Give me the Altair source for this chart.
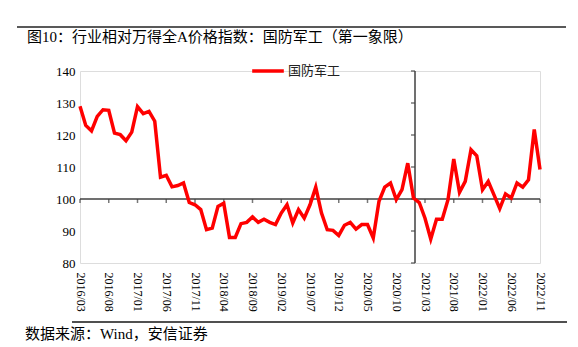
import altair as alt
import pandas as pd

months = [f"{2016 + (i + 2) // 12}/{(i + 2) % 12 + 1:02d}" for i in range(81)]
values = [129.0, 123.0, 121.3, 125.8, 127.9, 127.7, 120.6, 120.1, 118.2, 120.9,
          128.9, 126.7, 127.4, 124.3, 106.8, 107.4, 103.8, 104.2, 105.0, 98.9,
          98.2, 96.7, 90.4, 90.9, 97.7, 98.7, 88.0, 88.0, 92.3, 92.7,
          94.4, 92.7, 93.7, 92.7, 92.0, 95.6, 98.2, 92.5, 96.7, 94.0,
          98.2, 103.7, 95.6, 90.4, 90.2, 88.6, 91.8, 92.7, 90.6, 92.0,
          92.0, 87.8, 99.3, 103.7, 105.0, 99.8, 102.9, 111.2, 100.3, 98.9,
          94.0, 87.5, 93.7, 93.7, 99.8, 112.5, 102.1, 105.5, 115.4, 113.5,
          102.9, 105.5, 101.3, 97.0, 101.6, 100.3, 105.0, 103.7, 106.0, 121.7,
          109.2]
tick_labels = ["2016/03", "2016/08", "2017/01", "2017/06", "2017/11", "2018/04",
               "2018/09", "2019/02", "2019/07", "2019/12", "2020/05", "2020/10",
               "2021/03", "2021/08", "2022/01", "2022/06", "2022/11"]
y_ticks = [80, 90, 100, 110, 120, 130, 140]
series_name = "国防军工"
title_text = "图10：行业相对万得全A价格指数：国防军工（第一象限）"
source_text = "数据来源：Wind，安信证券"
cross_month = "2021/01"
cross_value = 100

df = pd.DataFrame({"month": months, "value": values, "series": series_name})
xt_df = pd.DataFrame({"month": tick_labels})
yt_df = pd.DataFrame({"value": y_ticks})
deco_df = pd.DataFrame({"k": [0]})

SERIF = "Liberation Serif, Noto Sans CJK SC"
AX = "#404040"

xscale = alt.Scale(type="point", padding=0)
yscale = alt.Scale(domain=[80, 140], nice=False, zero=False)
x_axis = alt.Axis(values=tick_labels, labelAngle=90, domain=False, ticks=False,
                  grid=False, title=None, labelFont=SERIF, labelFontSize=12,
                  labelColor="black", labelPadding=9, labelOverlap=False)
y_axis = alt.Axis(values=y_ticks, domain=False, ticks=False, grid=False,
                  title=None, labelFont=SERIF, labelFontSize=13,
                  labelColor="black", labelPadding=5, labelOverlap=False,
                  tickCount=7)

line = alt.Chart(df).mark_line(strokeWidth=3.5).encode(
    x=alt.X("month:O", sort=months, scale=xscale, axis=x_axis),
    y=alt.Y("value:Q", scale=yscale, axis=y_axis),
    color=alt.Color("series:N", scale=alt.Scale(range=["#FF0000"]),
                    legend=alt.Legend(title=None, orient="none", legendX=170, legendY=-18,
                                      symbolType="stroke", symbolSize=1000,
                                      symbolStrokeWidth=3.5, labelFont="Noto Sans CJK SC",
                                      labelFontSize=13, labelColor="#222222",
                                      labelOffset=2)),
)

# x axis line crossing at 100
x_axis_line = alt.Chart(deco_df).mark_rule(color=AX, strokeWidth=1.5).encode(
    x=alt.value(0), x2=alt.value(460), y=alt.datum(cross_value))
x_ticks = alt.Chart(xt_df).mark_tick(orient="vertical", color=AX, thickness=1.5,
                                     size=4, yOffset=2).encode(
    x=alt.X("month:O", sort=months, scale=xscale, axis=x_axis),
    y=alt.datum(cross_value))

# y axis line crossing at 2021/01
y_axis_line = alt.Chart(deco_df).mark_rule(color=AX, strokeWidth=1.5, xOffset=1.5).encode(
    x=alt.datum(cross_month), y=alt.datum(80), y2=alt.datum(140))
y_ticks_mark = alt.Chart(yt_df).mark_tick(orient="horizontal", color=AX, thickness=1.5,
                                          size=4, xOffset=-0.5).encode(
    x=alt.datum(cross_month),
    y=alt.Y("value:Q", scale=yscale, axis=y_axis))

top_rule = alt.Chart(deco_df).mark_rule(color="#222222", strokeWidth=1.5).encode(
    x=alt.value(-63), x2=alt.value(486), y=alt.value(-44))
bottom_rule = alt.Chart(deco_df).mark_rule(color="#444444", strokeWidth=1.5,
                                           yOffset=251).encode(
    x=alt.value(-8), x2=alt.value(487), y=alt.value(0))
bottom_rule2 = alt.Chart(deco_df).mark_rule(color="#444444", strokeWidth=1.5).encode(
    x=alt.value(-8), x2=alt.value(487), y=alt.datum(61.6))
title = alt.Chart(deco_df).mark_text(align="left", baseline="middle", fontSize=15,
                                     font=SERIF, color="black", text=title_text).encode(
    x=alt.value(-53), y=alt.value(-34))
source = alt.Chart(deco_df).mark_text(align="left", baseline="middle", fontSize=15,
                                      font=SERIF, color="black", text=source_text).encode(
    x=alt.value(-55), y=alt.value(263))

chart = alt.layer(top_rule, bottom_rule, bottom_rule2, title, source, x_axis_line, x_ticks,
                  y_axis_line, y_ticks_mark, line).properties(
    width=460, height=192,
    autosize=alt.AutoSizeParams(type="none"),
    padding={"left": 80, "top": 71, "right": 38, "bottom": 84},
).configure_view(strokeWidth=0).configure_axis(
    domain=False, ticks=False, grid=False
).configure(background="white")

chart.save("out.html", embed_options={"renderer": "svg", "actions": False})
